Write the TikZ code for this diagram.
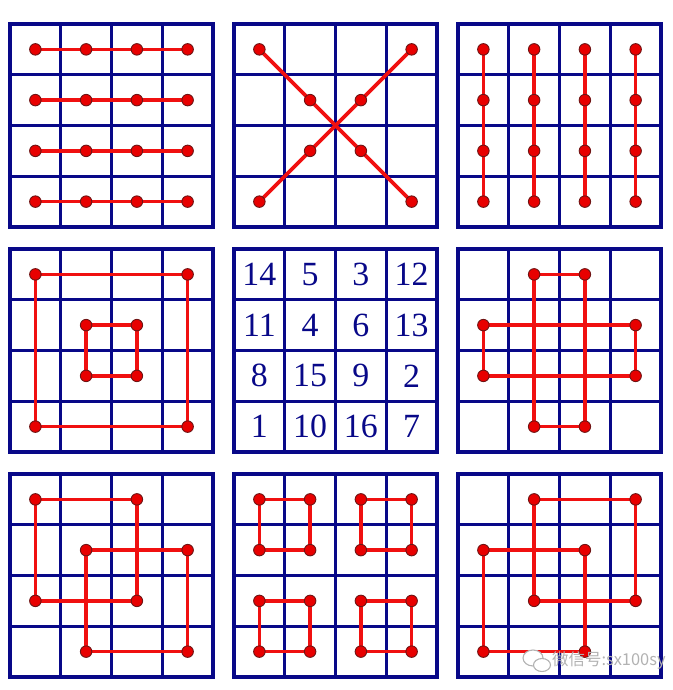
\documentclass[tikz,border=0pt]{standalone}
\usepackage{fontspec}
\setmainfont{Liberation Serif}
\newfontfamily\cjkfont{Noto Sans CJK SC}
\definecolor{gridblue}{RGB}{8,8,136}
\definecolor{pathred}{RGB}{240,16,16}
\definecolor{dotred}{RGB}{232,0,0}
\definecolor{dotedge}{RGB}{110,20,20}
\definecolor{wmgray}{RGB}{178,178,178}
\newcommand\mygrid[3]{%
  \begin{scope}[shift={(#2,#3)}]
    \foreach \k in {1,2,3} {
      \draw[gridline] ({\k*50.75},0) -- ({\k*50.75},203);
      \draw[gridline] (0,{\k*50.75}) -- (203,{\k*50.75});
    }
    \draw[gridline] (0,0) rectangle (203,203);
    \foreach \i in {0,...,3} {
      \foreach \j in {0,...,3} {
        \coordinate (#1-\i\j) at ({(\i+0.5)*50.75},{(\j+0.5)*50.75});
      }
    }
  \end{scope}}
\newcommand\mydots[2]{%
  \foreach \p in {#2} { \node[dot] (d#1-\p) at (#1-\p) {}; }}
\begin{document}
\begin{tikzpicture}[x=1bp,y=-1bp,
  gridline/.style={draw=gridblue,line width=3.4bp,line join=miter},
  redpath/.style={draw=pathred,line width=3.6bp,line join=round},
  dot/.style={circle,fill=dotred,draw=dotedge,line width=0.9bp,minimum size=11.5bp,inner sep=0pt},
  num/.style={text=gridblue,font=\fontsize{34}{36}\selectfont,inner sep=0pt}]
\useasboundingbox (0,0) rectangle (673,690);
% grids
\mygrid{A}{10}{24}
\mygrid{B}{234}{24}
\mygrid{C}{458}{24}
\mygrid{D}{10}{249}
\mygrid{E}{234}{249}
\mygrid{F}{458}{249}
\mygrid{G}{10}{474}
\mygrid{H}{234}{474}
\mygrid{I}{458}{474}
% A: rows
\foreach \j in {0,...,3} { \draw[redpath] (A-0\j) -- (A-3\j); }
\mydots{A}{00,10,20,30,01,11,21,31,02,12,22,32,03,13,23,33}
% B: diagonals
\draw[redpath] (B-00) -- (B-33);
\draw[redpath] (B-30) -- (B-03);
\mydots{B}{00,11,22,33,30,21,12,03}
% C: columns
\foreach \i in {0,...,3} { \draw[redpath] (C-\i0) -- (C-\i3); }
\mydots{C}{00,10,20,30,01,11,21,31,02,12,22,32,03,13,23,33}
% D: nested squares
\draw[redpath] (D-00) -- (D-30) -- (D-33) -- (D-03) -- cycle;
\draw[redpath] (D-11) -- (D-21) -- (D-22) -- (D-12) -- cycle;
\mydots{D}{00,30,33,03,11,21,22,12}
% E: numbers
\node[num] (E-n14) at (E-00) {14};
\node[num] (E-n5)  at (E-10) {5};
\node[num] (E-n3)  at (E-20) {3};
\node[num] (E-n12) at (E-30) {12};
\node[num] (E-n11) at (E-01) {11};
\node[num] (E-n4)  at (E-11) {4};
\node[num] (E-n6)  at (E-21) {6};
\node[num] (E-n13) at (E-31) {13};
\node[num] (E-n8)  at (E-02) {8};
\node[num] (E-n15) at (E-12) {15};
\node[num] (E-n9)  at (E-22) {9};
\node[num] (E-n2)  at (E-32) {2};
\node[num] (E-n1)  at (E-03) {1};
\node[num] (E-n10) at (E-13) {10};
\node[num] (E-n16) at (E-23) {16};
\node[num] (E-n7)  at (E-33) {7};
% F: cross
\draw[redpath] (F-10) -- (F-20) -- (F-23) -- (F-13) -- cycle;
\draw[redpath] (F-01) -- (F-31) -- (F-32) -- (F-02) -- cycle;
\mydots{F}{10,20,23,13,01,31,32,02}
% G: interlocked
\draw[redpath] (G-00) -- (G-20) -- (G-22) -- (G-02) -- cycle;
\draw[redpath] (G-11) -- (G-31) -- (G-33) -- (G-13) -- cycle;
\mydots{G}{00,20,22,02,11,31,33,13}
% H: four small squares
\draw[redpath] (H-00) -- (H-10) -- (H-11) -- (H-01) -- cycle;
\draw[redpath] (H-20) -- (H-30) -- (H-31) -- (H-21) -- cycle;
\draw[redpath] (H-02) -- (H-12) -- (H-13) -- (H-03) -- cycle;
\draw[redpath] (H-22) -- (H-32) -- (H-33) -- (H-23) -- cycle;
\mydots{H}{00,10,11,01,20,30,31,21,02,12,13,03,22,32,33,23}
% I: interlocked
\draw[redpath] (I-10) -- (I-30) -- (I-32) -- (I-12) -- cycle;
\draw[redpath] (I-01) -- (I-21) -- (I-23) -- (I-03) -- cycle;
\mydots{I}{10,30,32,12,01,21,23,03}
% watermark
\draw[wmgray,line width=1.1bp,fill=white] (533,658) ellipse (10 and 8);
\draw[wmgray,line width=1.1bp,fill=white] (542,665) ellipse (8.5 and 6.5);
\node[text=wmgray,font=\cjkfont\fontsize{16.5}{18}\selectfont,anchor=west,inner sep=0pt] (wm) at (552,661) {微信号:sx100sy};
\end{tikzpicture}
\end{document}
